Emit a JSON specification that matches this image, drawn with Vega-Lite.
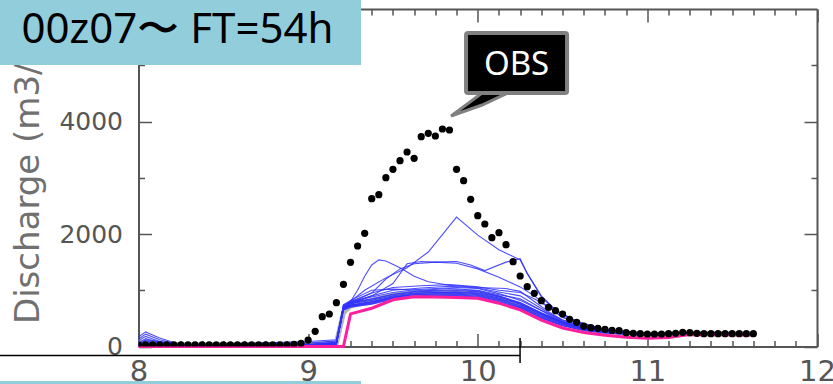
{
  "$schema": "https://vega.github.io/schema/vega-lite/v6.json",
  "width": 678.5,
  "height": 337.5,
  "autosize": {"type": "none"},
  "padding": {"left": 138.5, "top": 9, "right": 16, "bottom": 37.5},
  "background": "white",
  "config": {
    "view": {"stroke": null},
    "axis": {
      "domainColor": "#555", "domainWidth": 2, "tickColor": "#555", "tickWidth": 1.5, "grid": false,
      "labelFont": "DejaVu Sans", "labelFontSize": 25, "labelColor": "#555", "labelOverlap": false, "labelFlush": false
    }
  },
  "datasets": {
    "obs": [
      {"d":8,"q":30},{"d":8.0417,"q":30},{"d":8.0833,"q":30},{"d":8.125,"q":30},{"d":8.1667,"q":30},{"d":8.2083,"q":30},
      {"d":8.25,"q":30},{"d":8.2917,"q":30},{"d":8.3333,"q":30},{"d":8.375,"q":30},{"d":8.4167,"q":30},{"d":8.4583,"q":30},
      {"d":8.5,"q":30},{"d":8.5417,"q":30},{"d":8.5833,"q":30},{"d":8.625,"q":30},{"d":8.6667,"q":30},{"d":8.7083,"q":30},
      {"d":8.75,"q":30},{"d":8.7917,"q":30},{"d":8.8333,"q":30},{"d":8.875,"q":30},{"d":8.9167,"q":40},{"d":8.9583,"q":57},
      {"d":9,"q":115},{"d":9.0417,"q":270},{"d":9.0833,"q":530},{"d":9.125,"q":578},{"d":9.1667,"q":779},{"d":9.2083,"q":1105},
      {"d":9.25,"q":1497},{"d":9.2917,"q":1787},{"d":9.3333,"q":2012},{"d":9.375,"q":2628},{"d":9.4167,"q":2699},{"d":9.4583,"q":3001},
      {"d":9.5,"q":3150},{"d":9.5417,"q":3303},{"d":9.5833,"q":3458},{"d":9.625,"q":3346},{"d":9.6667,"q":3730},{"d":9.7083,"q":3790},
      {"d":9.75,"q":3742},{"d":9.7917,"q":3867},{"d":9.8333,"q":3849},{"d":9.875,"q":3150},{"d":9.9167,"q":2948},{"d":9.9583,"q":2617},
      {"d":10,"q":2326},{"d":10.0417,"q":2178},{"d":10.0833,"q":1935},{"d":10.125,"q":2023},{"d":10.1667,"q":1810},{"d":10.2083,"q":1508},
      {"d":10.25,"q":1253},{"d":10.2917,"q":1063},{"d":10.3333,"q":946},{"d":10.375,"q":814},{"d":10.4167,"q":697},{"d":10.4583,"q":636},
      {"d":10.5,"q":578},{"d":10.5417,"q":484},{"d":10.5833,"q":430},{"d":10.625,"q":364},{"d":10.6667,"q":334},{"d":10.7083,"q":323},
      {"d":10.75,"q":305},{"d":10.7917,"q":288},{"d":10.8333,"q":281},{"d":10.875,"q":246},{"d":10.9167,"q":235},{"d":10.9583,"q":228},
      {"d":11,"q":222},{"d":11.0417,"q":222},{"d":11.0833,"q":222},{"d":11.125,"q":228},{"d":11.1667,"q":235},{"d":11.2083,"q":252},
      {"d":11.25,"q":246},{"d":11.2917,"q":235},{"d":11.3333,"q":228},{"d":11.375,"q":228},{"d":11.4167,"q":228},{"d":11.4583,"q":228},
      {"d":11.5,"q":228},{"d":11.5417,"q":228},{"d":11.5833,"q":228},{"d":11.625,"q":228}
    ],
    "ctl": [
      {"d":8,"q":0},{"d":8.25,"q":0},{"d":9,"q":0},{"d":9.2083,"q":0},{"d":9.25,"q":580},{"d":9.375,"q":680},{"d":9.5,"q":830},
      {"d":9.625,"q":885},{"d":9.75,"q":880},{"d":9.875,"q":870},{"d":10,"q":857},{"d":10.125,"q":770},{"d":10.25,"q":650},
      {"d":10.375,"q":470},{"d":10.5,"q":330},{"d":10.625,"q":250},{"d":10.75,"q":200},{"d":10.875,"q":165},{"d":11,"q":146},
      {"d":11.125,"q":160},{"d":11.25,"q":215},{"d":11.375,"q":210},{"d":11.625,"q":204}
    ],
    "mean": [
      {"d":8,"q":80},{"d":8.25,"q":30},{"d":9,"q":30},{"d":9.1667,"q":60},{"d":9.2083,"q":600},{"d":9.25,"q":720},{"d":9.375,"q":820},
      {"d":9.5,"q":910},{"d":9.625,"q":950},{"d":9.75,"q":960},{"d":9.875,"q":960},{"d":10,"q":940},{"d":10.125,"q":860},
      {"d":10.25,"q":740},{"d":10.375,"q":560},{"d":10.5,"q":410},{"d":10.625,"q":310},{"d":10.75,"q":255},{"d":11,"q":205},
      {"d":11.25,"q":233},{"d":11.625,"q":224}
    ],
    "ens": [
      {"m":"L1","d":8,"q":170},{"m":"L1","d":8.0417,"q":260},{"m":"L1","d":8.125,"q":150},{"m":"L1","d":8.25,"q":30},{"m":"L1","d":9,"q":30},{"m":"L1","d":9.1667,"q":60},{"m":"L1","d":9.2083,"q":700},{"m":"L1","d":9.25,"q":740},{"m":"L1","d":9.375,"q":790},{"m":"L1","d":9.5,"q":870},{"m":"L1","d":9.625,"q":920},{"m":"L1","d":9.75,"q":930},{"m":"L1","d":9.875,"q":930},{"m":"L1","d":10,"q":910},{"m":"L1","d":10.125,"q":830},{"m":"L1","d":10.25,"q":720},{"m":"L1","d":10.375,"q":540},{"m":"L1","d":10.5,"q":400},{"m":"L1","d":10.625,"q":310},{"m":"L1","d":10.75,"q":260},{"m":"L1","d":11,"q":210},{"m":"L1","d":11.25,"q":235},{"m":"L1","d":11.625,"q":225},
      {"m":"L2","d":8,"q":130},{"m":"L2","d":8.0417,"q":220},{"m":"L2","d":8.125,"q":120},{"m":"L2","d":8.25,"q":25},{"m":"L2","d":9,"q":25},{"m":"L2","d":9.1667,"q":50},{"m":"L2","d":9.2083,"q":680},{"m":"L2","d":9.25,"q":720},{"m":"L2","d":9.375,"q":770},{"m":"L2","d":9.5,"q":860},{"m":"L2","d":9.625,"q":900},{"m":"L2","d":9.75,"q":910},{"m":"L2","d":9.875,"q":915},{"m":"L2","d":10,"q":895},{"m":"L2","d":10.125,"q":815},{"m":"L2","d":10.25,"q":700},{"m":"L2","d":10.375,"q":520},{"m":"L2","d":10.5,"q":385},{"m":"L2","d":10.625,"q":300},{"m":"L2","d":10.75,"q":250},{"m":"L2","d":11,"q":200},{"m":"L2","d":11.25,"q":232},{"m":"L2","d":11.625,"q":222},
      {"m":"L3","d":8,"q":100},{"m":"L3","d":8.0417,"q":180},{"m":"L3","d":8.125,"q":90},{"m":"L3","d":8.25,"q":20},{"m":"L3","d":9,"q":40},{"m":"L3","d":9.1667,"q":80},{"m":"L3","d":9.2083,"q":660},{"m":"L3","d":9.25,"q":710},{"m":"L3","d":9.375,"q":760},{"m":"L3","d":9.5,"q":850},{"m":"L3","d":9.625,"q":890},{"m":"L3","d":9.75,"q":900},{"m":"L3","d":9.875,"q":900},{"m":"L3","d":10,"q":880},{"m":"L3","d":10.125,"q":800},{"m":"L3","d":10.25,"q":690},{"m":"L3","d":10.375,"q":510},{"m":"L3","d":10.5,"q":375},{"m":"L3","d":10.625,"q":290},{"m":"L3","d":10.75,"q":245},{"m":"L3","d":11,"q":195},{"m":"L3","d":11.25,"q":230},{"m":"L3","d":11.625,"q":220},
      {"m":"L4","d":8,"q":60},{"m":"L4","d":8.0417,"q":140},{"m":"L4","d":8.125,"q":70},{"m":"L4","d":8.25,"q":20},{"m":"L4","d":9,"q":60},{"m":"L4","d":9.1667,"q":100},{"m":"L4","d":9.2083,"q":700},{"m":"L4","d":9.25,"q":760},{"m":"L4","d":9.375,"q":820},{"m":"L4","d":9.5,"q":900},{"m":"L4","d":9.625,"q":950},{"m":"L4","d":9.75,"q":960},{"m":"L4","d":9.875,"q":960},{"m":"L4","d":10,"q":940},{"m":"L4","d":10.125,"q":860},{"m":"L4","d":10.25,"q":750},{"m":"L4","d":10.375,"q":570},{"m":"L4","d":10.5,"q":420},{"m":"L4","d":10.625,"q":320},{"m":"L4","d":10.75,"q":265},{"m":"L4","d":11,"q":215},{"m":"L4","d":11.25,"q":238},{"m":"L4","d":11.625,"q":226},
      {"m":"L5","d":8,"q":40},{"m":"L5","d":8.0417,"q":100},{"m":"L5","d":8.125,"q":50},{"m":"L5","d":8.25,"q":20},{"m":"L5","d":9,"q":20},{"m":"L5","d":9.1667,"q":50},{"m":"L5","d":9.2083,"q":650},{"m":"L5","d":9.25,"q":700},{"m":"L5","d":9.375,"q":750},{"m":"L5","d":9.5,"q":840},{"m":"L5","d":9.625,"q":885},{"m":"L5","d":9.75,"q":895},{"m":"L5","d":9.875,"q":895},{"m":"L5","d":10,"q":875},{"m":"L5","d":10.125,"q":790},{"m":"L5","d":10.25,"q":680},{"m":"L5","d":10.375,"q":500},{"m":"L5","d":10.5,"q":370},{"m":"L5","d":10.625,"q":285},{"m":"L5","d":10.75,"q":240},{"m":"L5","d":11,"q":192},{"m":"L5","d":11.25,"q":228},{"m":"L5","d":11.625,"q":220},
      {"m":"L6","d":8,"q":20},{"m":"L6","d":8.0417,"q":60},{"m":"L6","d":8.125,"q":40},{"m":"L6","d":8.25,"q":20},{"m":"L6","d":9,"q":90},{"m":"L6","d":9.1667,"q":120},{"m":"L6","d":9.2083,"q":720},{"m":"L6","d":9.25,"q":780},{"m":"L6","d":9.375,"q":850},{"m":"L6","d":9.5,"q":930},{"m":"L6","d":9.625,"q":980},{"m":"L6","d":9.75,"q":1000},{"m":"L6","d":9.875,"q":1010},{"m":"L6","d":10,"q":990},{"m":"L6","d":10.125,"q":900},{"m":"L6","d":10.25,"q":780},{"m":"L6","d":10.375,"q":600},{"m":"L6","d":10.5,"q":440},{"m":"L6","d":10.625,"q":330},{"m":"L6","d":10.75,"q":270},{"m":"L6","d":11,"q":218},{"m":"L6","d":11.25,"q":240},{"m":"L6","d":11.625,"q":228},
      {"m":"L7","d":8,"q":20},{"m":"L7","d":8.25,"q":20},{"m":"L7","d":9,"q":20},{"m":"L7","d":9.1667,"q":50},{"m":"L7","d":9.2083,"q":690},{"m":"L7","d":9.25,"q":730},{"m":"L7","d":9.375,"q":800},{"m":"L7","d":9.5,"q":880},{"m":"L7","d":9.625,"q":925},{"m":"L7","d":9.75,"q":940},{"m":"L7","d":9.875,"q":945},{"m":"L7","d":10,"q":925},{"m":"L7","d":10.125,"q":845},{"m":"L7","d":10.25,"q":730},{"m":"L7","d":10.375,"q":555},{"m":"L7","d":10.5,"q":410},{"m":"L7","d":10.625,"q":315},{"m":"L7","d":10.75,"q":262},{"m":"L7","d":11,"q":212},{"m":"L7","d":11.25,"q":236},{"m":"L7","d":11.625,"q":224},
      {"m":"L8","d":8,"q":20},{"m":"L8","d":8.25,"q":20},{"m":"L8","d":9,"q":30},{"m":"L8","d":9.1667,"q":60},{"m":"L8","d":9.2083,"q":740},{"m":"L8","d":9.25,"q":800},{"m":"L8","d":9.375,"q":880},{"m":"L8","d":9.5,"q":960},{"m":"L8","d":9.625,"q":1010},{"m":"L8","d":9.75,"q":1030},{"m":"L8","d":9.875,"q":1050},{"m":"L8","d":10,"q":1030},{"m":"L8","d":10.125,"q":940},{"m":"L8","d":10.25,"q":820},{"m":"L8","d":10.375,"q":640},{"m":"L8","d":10.5,"q":470},{"m":"L8","d":10.625,"q":350},{"m":"L8","d":10.75,"q":280},{"m":"L8","d":11,"q":222},{"m":"L8","d":11.25,"q":242},{"m":"L8","d":11.625,"q":230},
      {"m":"L9","d":8,"q":20},{"m":"L9","d":8.25,"q":20},{"m":"L9","d":9,"q":20},{"m":"L9","d":9.1667,"q":40},{"m":"L9","d":9.2083,"q":670},{"m":"L9","d":9.25,"q":730},{"m":"L9","d":9.375,"q":780},{"m":"L9","d":9.5,"q":880},{"m":"L9","d":9.625,"q":940},{"m":"L9","d":9.75,"q":960},{"m":"L9","d":9.875,"q":970},{"m":"L9","d":10,"q":955},{"m":"L9","d":10.125,"q":880},{"m":"L9","d":10.25,"q":770},{"m":"L9","d":10.375,"q":590},{"m":"L9","d":10.5,"q":430},{"m":"L9","d":10.625,"q":325},{"m":"L9","d":10.75,"q":268},{"m":"L9","d":11,"q":214},{"m":"L9","d":11.25,"q":237},{"m":"L9","d":11.625,"q":225},
      {"m":"L10","d":8,"q":20},{"m":"L10","d":8.25,"q":20},{"m":"L10","d":9,"q":20},{"m":"L10","d":9.1667,"q":45},{"m":"L10","d":9.2083,"q":710},{"m":"L10","d":9.25,"q":770},{"m":"L10","d":9.375,"q":840},{"m":"L10","d":9.5,"q":920},{"m":"L10","d":9.625,"q":970},{"m":"L10","d":9.75,"q":985},{"m":"L10","d":9.875,"q":990},{"m":"L10","d":10,"q":975},{"m":"L10","d":10.125,"q":890},{"m":"L10","d":10.25,"q":760},{"m":"L10","d":10.375,"q":580},{"m":"L10","d":10.5,"q":425},{"m":"L10","d":10.625,"q":322},{"m":"L10","d":10.75,"q":266},{"m":"L10","d":11,"q":213},{"m":"L10","d":11.25,"q":237},{"m":"L10","d":11.625,"q":226},
      {"m":"D1","d":8,"q":20},{"m":"D1","d":8.0417,"q":120},{"m":"D1","d":8.25,"q":30},{"m":"D1","d":9,"q":30},{"m":"D1","d":9.1667,"q":60},{"m":"D1","d":9.2083,"q":720},{"m":"D1","d":9.25,"q":800},{"m":"D1","d":9.375,"q":950},{"m":"D1","d":9.5,"q":1050},{"m":"D1","d":9.6667,"q":1080},{"m":"D1","d":9.8333,"q":1100},{"m":"D1","d":10,"q":1060},{"m":"D1","d":10.125,"q":1000},{"m":"D1","d":10.25,"q":960},{"m":"D1","d":10.3333,"q":850},{"m":"D1","d":10.4167,"q":700},{"m":"D1","d":10.5,"q":520},{"m":"D1","d":10.625,"q":380},{"m":"D1","d":10.75,"q":300},{"m":"D1","d":11,"q":220},{"m":"D1","d":11.25,"q":240},{"m":"D1","d":11.625,"q":228},
      {"m":"D2","d":8,"q":20},{"m":"D2","d":8.0417,"q":80},{"m":"D2","d":8.25,"q":25},{"m":"D2","d":9,"q":25},{"m":"D2","d":9.1667,"q":50},{"m":"D2","d":9.2083,"q":700},{"m":"D2","d":9.25,"q":780},{"m":"D2","d":9.375,"q":900},{"m":"D2","d":9.5,"q":1000},{"m":"D2","d":9.6667,"q":1040},{"m":"D2","d":9.8333,"q":1070},{"m":"D2","d":10,"q":1040},{"m":"D2","d":10.125,"q":970},{"m":"D2","d":10.25,"q":900},{"m":"D2","d":10.3333,"q":750},{"m":"D2","d":10.4167,"q":600},{"m":"D2","d":10.5,"q":450},{"m":"D2","d":10.625,"q":340},{"m":"D2","d":10.75,"q":280},{"m":"D2","d":11,"q":215},{"m":"D2","d":11.25,"q":238},{"m":"D2","d":11.625,"q":226},
      {"m":"D3","d":8,"q":20},{"m":"D3","d":8.25,"q":20},{"m":"D3","d":9,"q":20},{"m":"D3","d":9.1667,"q":50},{"m":"D3","d":9.2083,"q":740},{"m":"D3","d":9.25,"q":820},{"m":"D3","d":9.375,"q":1000},{"m":"D3","d":9.5,"q":1020},{"m":"D3","d":9.6667,"q":1000},{"m":"D3","d":9.8333,"q":1030},{"m":"D3","d":10,"q":1000},{"m":"D3","d":10.125,"q":920},{"m":"D3","d":10.25,"q":850},{"m":"D3","d":10.375,"q":640},{"m":"D3","d":10.5,"q":430},{"m":"D3","d":10.625,"q":330},{"m":"D3","d":10.75,"q":270},{"m":"D3","d":11,"q":210},{"m":"D3","d":11.25,"q":235},{"m":"D3","d":11.625,"q":225},
      {"m":"M1","d":8,"q":20},{"m":"M1","d":9,"q":20},{"m":"M1","d":9.1667,"q":60},{"m":"M1","d":9.2083,"q":650},{"m":"M1","d":9.25,"q":800},{"m":"M1","d":9.3333,"q":1000},{"m":"M1","d":9.4583,"q":1220},{"m":"M1","d":9.5833,"q":1400},{"m":"M1","d":9.7083,"q":1680},{"m":"M1","d":9.875,"q":2300},{"m":"M1","d":10,"q":1980},{"m":"M1","d":10.125,"q":1720},{"m":"M1","d":10.25,"q":1540},{"m":"M1","d":10.2917,"q":1300},{"m":"M1","d":10.375,"q":900},{"m":"M1","d":10.4583,"q":650},{"m":"M1","d":10.5833,"q":450},{"m":"M1","d":10.75,"q":300},{"m":"M1","d":11,"q":230},{"m":"M1","d":11.25,"q":240},{"m":"M1","d":11.625,"q":230},
      {"m":"M2","d":8,"q":20},{"m":"M2","d":9,"q":20},{"m":"M2","d":9.1667,"q":70},{"m":"M2","d":9.2083,"q":700},{"m":"M2","d":9.25,"q":800},{"m":"M2","d":9.2917,"q":1000},{"m":"M2","d":9.3333,"q":1250},{"m":"M2","d":9.375,"q":1450},{"m":"M2","d":9.4167,"q":1540},{"m":"M2","d":9.4583,"q":1520},{"m":"M2","d":9.5417,"q":1400},{"m":"M2","d":9.625,"q":1250},{"m":"M2","d":9.7083,"q":1150},{"m":"M2","d":9.8333,"q":1090},{"m":"M2","d":10,"q":1050},{"m":"M2","d":10.1667,"q":1030},{"m":"M2","d":10.25,"q":980},{"m":"M2","d":10.3333,"q":800},{"m":"M2","d":10.4167,"q":620},{"m":"M2","d":10.5,"q":470},{"m":"M2","d":10.625,"q":360},{"m":"M2","d":10.75,"q":290},{"m":"M2","d":11,"q":225},{"m":"M2","d":11.25,"q":238},{"m":"M2","d":11.625,"q":226},
      {"m":"M3","d":8,"q":20},{"m":"M3","d":9,"q":20},{"m":"M3","d":9.1667,"q":60},{"m":"M3","d":9.2083,"q":650},{"m":"M3","d":9.25,"q":750},{"m":"M3","d":9.375,"q":900},{"m":"M3","d":9.5,"q":1120},{"m":"M3","d":9.5833,"q":1470},{"m":"M3","d":9.6667,"q":1510},{"m":"M3","d":9.75,"q":1500},{"m":"M3","d":9.875,"q":1510},{"m":"M3","d":9.9583,"q":1450},{"m":"M3","d":10.0417,"q":1350},{"m":"M3","d":10.1667,"q":1500},{"m":"M3","d":10.25,"q":1560},{"m":"M3","d":10.2917,"q":1300},{"m":"M3","d":10.375,"q":880},{"m":"M3","d":10.4583,"q":640},{"m":"M3","d":10.5833,"q":440},{"m":"M3","d":10.75,"q":295},{"m":"M3","d":11,"q":228},{"m":"M3","d":11.25,"q":240},{"m":"M3","d":11.625,"q":230},
      {"m":"M4","d":8,"q":20},{"m":"M4","d":9,"q":20},{"m":"M4","d":9.1667,"q":60},{"m":"M4","d":9.2083,"q":680},{"m":"M4","d":9.25,"q":780},{"m":"M4","d":9.375,"q":950},{"m":"M4","d":9.4583,"q":1200},{"m":"M4","d":9.5417,"q":1380},{"m":"M4","d":9.625,"q":1470},{"m":"M4","d":9.75,"q":1500},{"m":"M4","d":9.875,"q":1480},{"m":"M4","d":10,"q":1380},{"m":"M4","d":10.125,"q":1230},{"m":"M4","d":10.25,"q":1060},{"m":"M4","d":10.3333,"q":900},{"m":"M4","d":10.4167,"q":700},{"m":"M4","d":10.5,"q":520},{"m":"M4","d":10.625,"q":380},{"m":"M4","d":10.75,"q":300},{"m":"M4","d":11,"q":228},{"m":"M4","d":11.25,"q":238},{"m":"M4","d":11.625,"q":228}
    ],
    "boxes": [
      {"k":"title","d":7.1834,"d2":9.3119,"q":6200,"q2":5004},
      {"k":"strip","d":7.1834,"d2":9.3119,"q":-613,"q2":-700}
    ],
    "callout": [
      {"d":9.931,"d2":10.5265,"q":5573,"q2":4507}
    ],
    "tail": [
      {"d":9.8426,"q":4098,"q2":4098},
      {"d":10.0254,"q":4507,"q2":4293},
      {"d":10.1787,"q":4507,"q2":4507}
    ],
    "marks": [
      {"d":7.1834,"d2":10.2494,"q":-160,"q2":-160},
      {"d":10.2494,"d2":10.2494,"q":151,"q2":-293}
    ],
    "titletext": [{"d":8.23,"q":5396,"t":"00z07〜 FT=54h"}],
    "obslabel": [{"d":10.2288,"q":4827,"t":"OBS"}]
  },
  "layer": [
    {
      "data": {"name": "mean"},
      "mark": {"type": "line", "color": "#b4b4b4", "strokeWidth": 5},
      "encoding": {
        "x": {"field": "d", "type": "quantitative", "scale": {"domain": [8, 12], "nice": false, "zero": false},
          "axis": {"orient": "bottom", "title": null,
            "values": [8,8.125,8.25,8.375,8.5,8.625,8.75,8.875,9,9.125,9.25,9.375,9.5,9.625,9.75,9.875,10,10.125,10.25,10.375,10.5,10.625,10.75,10.875,11,11.125,11.25,11.375,11.5,11.625,11.75,11.875,12],
            "tickSize": {"condition": {"test": "datum.value % 1 === 0", "value": -13}, "value": -6},
            "labelExpr": "datum.value % 1 === 0 ? format(datum.value, 'd') : ''",
            "labelFontSize": 29, "labelPadding": 24, "labelBaseline": "top"}},
        "y": {"field": "q", "type": "quantitative", "scale": {"domain": [0, 6000], "nice": false},
          "axis": {"orient": "left", "values": [0,1000,2000,3000,4000,5000],
            "tickSize": {"condition": {"test": "datum.value % 2000 === 0", "value": -13}, "value": -6},
            "labelExpr": "datum.value % 2000 === 0 ? format(datum.value, 'd') : ''",
            "labelPadding": 29,
            "title": "Discharge (m3/s)", "titleFont": "DejaVu Sans", "titleFontSize": 34, "titleFontWeight": "normal",
            "titleColor": "#707070", "titlePadding": 13}}
      }
    },
    {
      "data": {"name": "ens"},
      "mark": {"type": "line", "color": "#3030ff", "strokeWidth": 1.1, "opacity": 0.85},
      "encoding": {
        "x": {"field": "d", "type": "quantitative", "scale": {"domain": [8, 12], "nice": false, "zero": false},
          "axis": {"orient": "top", "title": null, "labels": false,
            "values": [8,8.125,8.25,8.375,8.5,8.625,8.75,8.875,9,9.125,9.25,9.375,9.5,9.625,9.75,9.875,10,10.125,10.25,10.375,10.5,10.625,10.75,10.875,11,11.125,11.25,11.375,11.5,11.625,11.75,11.875,12],
            "tickSize": {"condition": {"test": "datum.value % 1 === 0", "value": -13}, "value": -6}}},
        "y": {"field": "q", "type": "quantitative", "scale": {"domain": [0, 6000], "nice": false},
          "axis": {"orient": "right", "title": null, "labels": false, "values": [0,1000,2000,3000,4000,5000],
            "tickSize": {"condition": {"test": "datum.value % 2000 === 0", "value": -13}, "value": -6}}},
        "detail": {"field": "m"}
      }
    },
    {
      "data": {"name": "ctl"},
      "mark": {"type": "line", "color": "#ff1f9c", "strokeWidth": 3},
      "encoding": {
        "x": {"field": "d", "type": "quantitative", "axis": null},
        "y": {"field": "q", "type": "quantitative", "axis": null}
      }
    },
    {
      "data": {"name": "obs"},
      "mark": {"type": "point", "filled": true, "color": "black", "opacity": 1, "size": 52, "clip": true},
      "encoding": {
        "x": {"field": "d", "type": "quantitative", "axis": null},
        "y": {"field": "q", "type": "quantitative", "axis": null}
      }
    },
    {
      "data": {"name": "marks"},
      "mark": {"type": "rule", "color": "black", "strokeWidth": 1.5, "clip": false},
      "encoding": {
        "x": {"field": "d", "type": "quantitative", "axis": null},
        "x2": {"field": "d2"},
        "y": {"field": "q", "type": "quantitative", "axis": null},
        "y2": {"field": "q2"}
      }
    },
    {
      "data": {"name": "boxes"},
      "mark": {"type": "rect", "color": "#92CDDC", "clip": false},
      "encoding": {
        "x": {"field": "d", "type": "quantitative", "axis": null},
        "x2": {"field": "d2"},
        "y": {"field": "q", "type": "quantitative", "axis": null},
        "y2": {"field": "q2"}
      }
    },
    {
      "data": {"name": "titletext"},
      "mark": {"type": "text", "font": "Noto Sans", "fontSize": 42, "color": "black", "align": "center", "baseline": "alphabetic", "clip": false},
      "encoding": {
        "x": {"field": "d", "type": "quantitative", "axis": null},
        "y": {"field": "q", "type": "quantitative", "axis": null},
        "text": {"field": "t"}
      }
    },
    {
      "data": {"name": "tail"},
      "mark": {"type": "area", "orient": "vertical", "fill": "black", "stroke": "#808080", "strokeWidth": 3, "clip": false},
      "encoding": {
        "x": {"field": "d", "type": "quantitative", "axis": null},
        "y": {"field": "q", "type": "quantitative", "axis": null},
        "y2": {"field": "q2"}
      }
    },
    {
      "data": {"name": "callout"},
      "mark": {"type": "rect", "fill": "black", "stroke": "#808080", "strokeWidth": 4, "cornerRadius": 2, "clip": false},
      "encoding": {
        "x": {"field": "d", "type": "quantitative", "axis": null},
        "x2": {"field": "d2"},
        "y": {"field": "q", "type": "quantitative", "axis": null},
        "y2": {"field": "q2"}
      }
    },
    {
      "data": {"name": "obslabel"},
      "mark": {"type": "text", "font": "Noto Sans", "fontSize": 33, "color": "white", "align": "center", "baseline": "alphabetic", "clip": false},
      "encoding": {
        "x": {"field": "d", "type": "quantitative", "axis": null},
        "y": {"field": "q", "type": "quantitative", "axis": null},
        "text": {"field": "t"}
      }
    }
  ]
}
